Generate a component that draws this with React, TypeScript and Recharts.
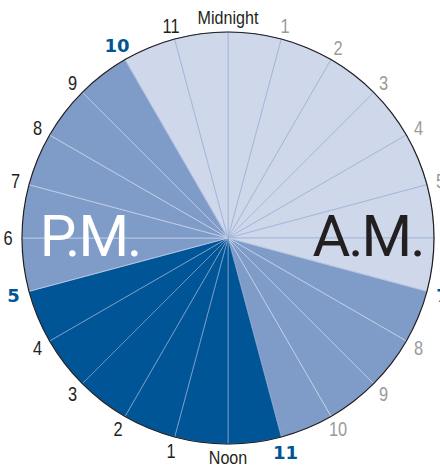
import { PieChart, Pie, Cell } from "recharts";

// one slice per hour, starting at midnight and going clockwise
const hourLabels: string[] = [
  "Midnight", "1", "2", "3", "4", "5", "6", "7", "8", "9", "10", "11",
  "Noon", "1", "2", "3", "4", "5", "6", "7", "8", "9", "10", "11",
];
const hourValues: number[] = [
  1, 1, 1, 1, 1, 1, 1, 1, 1, 1, 1, 1,
  1, 1, 1, 1, 1, 1, 1, 1, 1, 1, 1, 1,
];
const hourLevels: string[] = [
  "low", "low", "low", "low", "low", "low", "low", "mid", "mid", "mid", "mid", "high",
  "high", "high", "high", "high", "high", "mid", "mid", "mid", "mid", "mid", "low", "low",
];
const keyHours: number[] = [7, 11, 17, 22];
const halfLabels: string[] = ["A.M.", "P.M."];

const levelFill: Record<string, string> = {
  low: "#cfd8ea",
  mid: "#7f9bc8",
  high: "#005596",
};
const levelStroke: Record<string, string> = {
  low: "#9fb3d9",
  mid: "#c3d0e8",
  high: "#7d9dc9",
};

const data = hourLabels.map((label, i) => ({
  label,
  value: hourValues[i],
  level: hourLevels[i],
}));

const CX = 228;
const CY = 238;
const R = 206;
const RAD = Math.PI / 180;

const renderHourLabel = (props: any) => {
  const { cx, cy, startAngle, index } = props;
  const label = hourLabels[index];
  const isKey = keyHours.includes(index);
  const isWord = index === 0 || index === 12;
  const r = isKey ? 222 : 220;
  const x = cx + r * Math.cos(-startAngle * RAD);
  const y = cy + r * Math.sin(-startAngle * RAD);
  let fill = index > 12 ? "#231f20" : "#9a9a9a";
  if (isWord) fill = "#231f20";
  if (isKey) fill = "#005596";
  const fontSize = isKey ? 18 : isWord ? 17.5 : 20;
  const sx = isKey ? 1 : isWord ? 0.92 : 0.82;
  return (
    <text
      key={`hl-${index}`}
      transform={`translate(${x},${y + fontSize * 0.36}) scale(${sx},1)`}
      textAnchor="middle"
      fill={fill}
      fontSize={fontSize}
      fontWeight={isKey ? 900 : 400}
      fontFamily={isKey ? "'DejaVu Sans', sans-serif" : "'Liberation Sans', Arial, sans-serif"}
    >
      {label}
    </text>
  );
};

export default function App(): JSX.Element {
  return (
    <div
      style={{
        position: "absolute",
        left: 0,
        top: 0,
        width: 440,
        height: 466,
        overflow: "hidden",
        background: "#ffffff",
      }}
    >
      <div style={{ position: "absolute", left: 0, top: 0 }}>
        <PieChart width={440} height={466} margin={{ top: 0, right: 0, bottom: 0, left: 0 }}>
          <Pie
            data={data}
            dataKey="value"
            nameKey="label"
            cx={CX}
            cy={CY}
            innerRadius={0}
            outerRadius={R}
            startAngle={90}
            endAngle={-270}
            strokeWidth={0.8}
            label={renderHourLabel}
            labelLine={false}
            isAnimationActive={false}
          >
            {data.map((d, i) => (
              <Cell key={i} fill={levelFill[d.level]} stroke={levelStroke[d.level]} />
            ))}
          </Pie>
          <Pie
            data={[{ value: 1 }]}
            dataKey="value"
            cx={CX}
            cy={CY}
            innerRadius={R - 0.6}
            outerRadius={R + 0.6}
            startAngle={90}
            endAngle={-270}
            fill="#231f20"
            stroke="none"
            isAnimationActive={false}
          />
        </PieChart>
      </div>
      <svg
        width={440}
        height={466}
        style={{ position: "absolute", left: 0, top: 0, pointerEvents: "none" }}
      >
        <g fontFamily="Roboto, 'Liberation Sans', sans-serif" fontWeight={400} fontSize={58}>
          <text x={368} y={256} textAnchor="middle" fill="#231f20" letterSpacing={-2}>
            {halfLabels[0]}
          </text>
          <text x={90} y={256} textAnchor="middle" fill="#ffffff" letterSpacing={-2}>
            {halfLabels[1]}
          </text>
        </g>
      </svg>
    </div>
  );
}
